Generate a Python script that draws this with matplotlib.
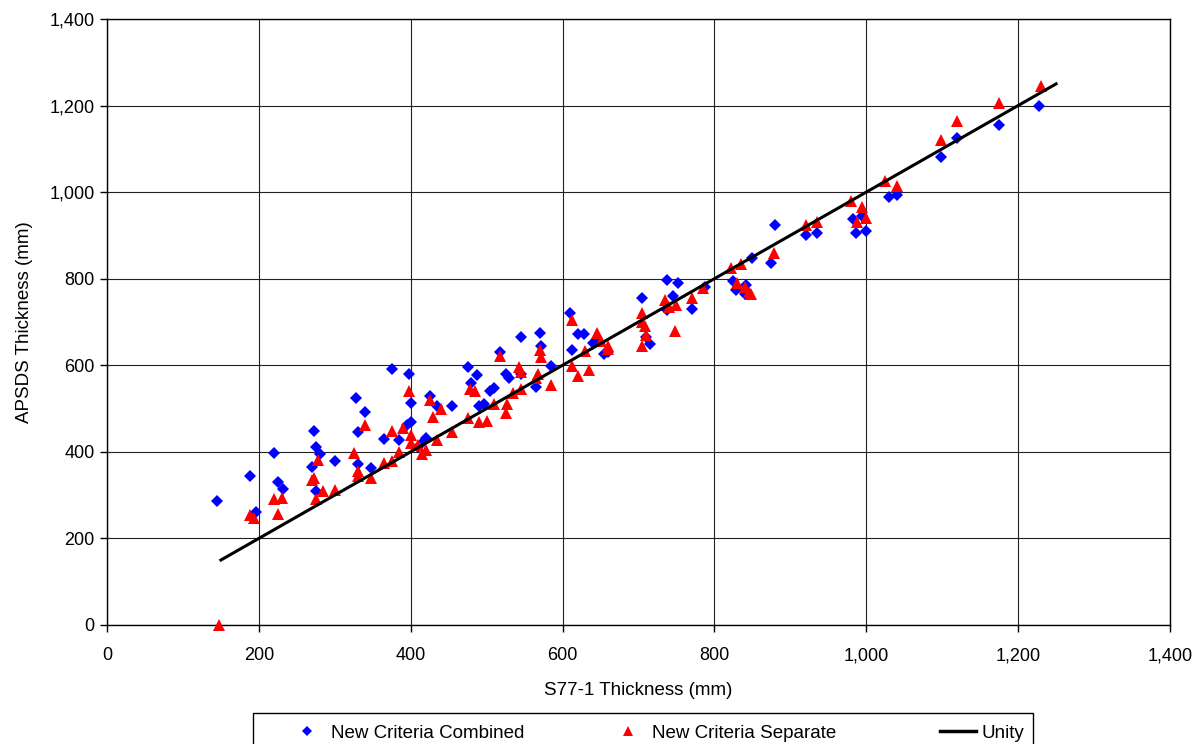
import matplotlib.pyplot as plt
from matplotlib.lines import Line2D
from matplotlib.patches import Rectangle
from matplotlib.ticker import FuncFormatter, MultipleLocator

plt.rcParams['font.family'] = ['Liberation Sans', 'DejaVu Sans']

# New Criteria Combined (blue diamonds)
combX = [145, 188, 196, 220, 225, 232, 270, 272, 275, 280, 275, 300, 328, 330, 330, 340, 348,
         365, 375, 385, 395, 398, 400, 400, 410, 418, 420, 425, 435, 455, 475, 480, 487, 490,
         497, 505, 510, 518, 525, 530, 545, 545, 565, 570, 572, 585, 610, 612, 620, 628, 640,
         645, 655, 660, 705, 710, 715, 737, 738, 745, 752, 770, 787, 825, 828, 840, 842, 850,
         875, 880, 920, 935, 982, 987, 995, 1000, 1030, 1040, 1098, 1120, 1175, 1228]
combY = [287, 345, 262, 397, 330, 315, 365, 448, 410, 395, 310, 378, 525, 445, 372, 492, 362,
         430, 592, 428, 462, 580, 512, 470, 410, 425, 432, 530, 505, 505, 597, 558, 578, 505,
         510, 540, 548, 630, 580, 570, 665, 580, 550, 675, 645, 598, 720, 635, 672, 672, 652,
         655, 625, 630, 755, 665, 650, 798, 728, 760, 790, 730, 780, 795, 775, 765, 785, 848,
         836, 925, 902, 905, 938, 905, 945, 910, 988, 993, 1082, 1125, 1155, 1198]

# New Criteria Separate (red triangles)
sepX = [147, 188, 193, 220, 225, 230, 270, 272, 275, 278, 285, 300, 325, 330, 330, 340, 348,
        365, 375, 375, 385, 390, 398, 400, 400, 410, 415, 420, 425, 430, 435, 440, 455, 475,
        478, 485, 490, 500, 510, 518, 525, 527, 535, 542, 545, 545, 565, 568, 570, 572, 585,
        612, 612, 620, 630, 635, 645, 650, 660, 660, 705, 705, 708, 710, 705, 735, 740, 748,
        750, 770, 785, 822, 830, 835, 840, 845, 848, 878, 920, 935, 980, 988, 995, 1000, 1025,
        1040, 1098, 1120, 1175, 1230]
sepY = [0, 255, 248, 290, 257, 293, 335, 340, 290, 380, 310, 312, 398, 355, 345, 462, 340,
        375, 378, 448, 400, 455, 540, 440, 420, 415, 395, 405, 520, 480, 428, 500, 445, 478,
        545, 540, 470, 472, 510, 622, 490, 510, 535, 595, 585, 545, 570, 580, 635, 620, 555,
        705, 598, 575, 632, 588, 675, 655, 645, 638, 720, 700, 690, 670, 645, 750, 735, 680,
        740, 755, 778, 825, 790, 835, 780, 770, 765, 860, 925, 930, 980, 930, 965, 940, 1025,
        1015, 1120, 1165, 1205, 1245]

unityX = [150, 1250]
unityY = [150, 1250]

fig = plt.figure(figsize=(11.97, 7.44), dpi=100)
ax = fig.add_axes([0.0894, 0.16, 0.888, 0.8145])

hComb, = ax.plot(combX, combY, linestyle='none', marker='D', markersize=6.5, color='#0000ff',
                 markeredgewidth=0, label='New Criteria Combined', zorder=3, clip_on=False)
hSep, = ax.plot(sepX, sepY, linestyle='none', marker='^', markersize=8.5, color='#ff0000',
                markeredgewidth=0, label='New Criteria Separate', zorder=4, clip_on=False)
hUnity, = ax.plot(unityX, unityY, color='black', linewidth=2.2, label='Unity', zorder=5)

ax.set_xlim(0, 1400)
ax.set_ylim(0, 1400)
ax.xaxis.set_major_locator(MultipleLocator(200))
ax.yaxis.set_major_locator(MultipleLocator(200))
fmt = FuncFormatter(lambda v, p: f'{int(v):,}')
ax.xaxis.set_major_formatter(fmt)
ax.yaxis.set_major_formatter(fmt)
ax.tick_params(labelsize=13, direction='out', length=5, width=1, color='black')
ax.tick_params(axis='x', pad=11)
ax.tick_params(axis='y', pad=4)
ax.grid(True, color='#222222', linewidth=0.8)
ax.set_axisbelow(True)
for s in ax.spines.values():
    s.set_color('black')
    s.set_linewidth(1)

ax.set_xlabel('S77-1 Thickness (mm)', fontsize=13.5, labelpad=13)
ax.set_ylabel('APSDS Thickness (mm)', fontsize=13.5, labelpad=12)

# legend box (cut off by the bottom of the figure, as in the original)
fig.add_artist(Rectangle((0.2114, -0.02), 0.6516, 0.0617, transform=fig.transFigure,
                         facecolor='white', edgecolor='black', linewidth=1, zorder=1))

legendItems = [
    (Line2D([], [], linestyle='none', marker='D', markersize=5, color='#0000ff', markeredgewidth=0),
     'New Criteria Combined', 289),
    (Line2D([], [], linestyle='none', marker='^', markersize=6.5, color='#ff0000', markeredgewidth=0),
     'New Criteria Separate', 610),
    (Line2D([], [], color='black', linewidth=2.5), 'Unity', 940),
]
for handle, text, px in legendItems:
    fig.legend(handles=[handle], labels=[text], loc='center left',
               bbox_to_anchor=(px / 1197, 1 - 733 / 744), frameon=False, fontsize=13.5,
               borderpad=0, borderaxespad=0, handlelength=1.9, handletextpad=0.32)

fig.savefig('out.png', dpi=100)
